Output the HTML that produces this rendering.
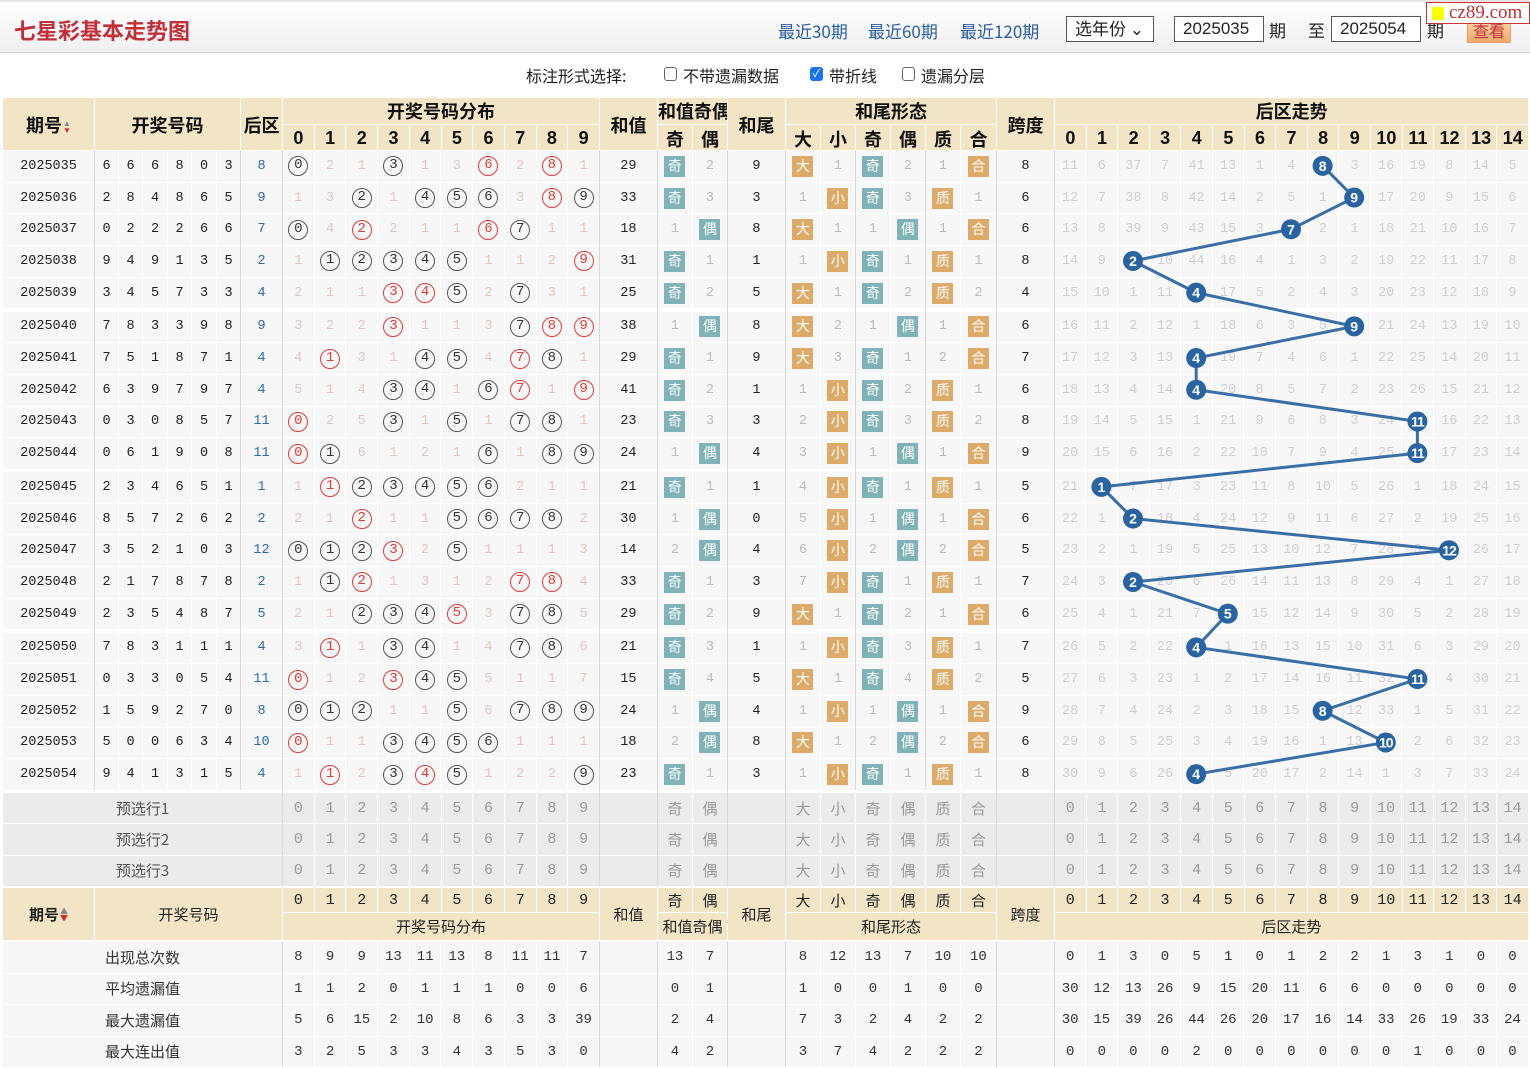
<!DOCTYPE html>
<html><head><meta charset="utf-8">
<style>
*{box-sizing:border-box}
body{margin:0;width:1530px;height:1068px;position:relative;background:#fff;font-family:"Liberation Sans","Noto Sans CJK SC",sans-serif;overflow:hidden;color:#222}
.top{position:absolute;left:0;top:0;width:1530px;height:53px;background:linear-gradient(#fff,#f0f0f0);border-top:2px solid #e5e5e5;border-bottom:1px solid #d8d8d8}
.title{position:absolute;left:14px;top:12px;font-size:22px;font-weight:bold;color:#c0303a;font-family:"Noto Sans CJK SC",sans-serif}
.lk{position:absolute;top:16px;font-size:17px;color:#2a5d9c;font-family:"Noto Sans CJK SC",sans-serif}
.box{position:absolute;top:14px;height:26px;border:1px solid #555;background:#fff;font-size:17px;line-height:24px;padding-left:8px}
.tx{position:absolute;top:15px;font-size:17px;font-family:"Noto Sans CJK SC",sans-serif}
.btn{position:absolute;left:1467px;top:15px;width:44px;height:26px;background:linear-gradient(#fbd9b0,#f3a86a);border:1px solid #e2a36b;color:#c0303a;font-size:16px;text-align:center;line-height:24px;font-family:"Noto Sans CJK SC",sans-serif}
.logo{position:absolute;left:1426px;top:0;width:104px;height:22px;background:#fff;border:1px solid #c33;font-family:"Liberation Serif",serif;color:#c0303a;font-size:19px;line-height:19px;padding-left:22px}
.logo:before{content:"";position:absolute;left:5px;top:4px;width:12px;height:13px;background:#ff0}
.opt{position:absolute;top:63px;font-size:16px;color:#222;font-family:"Noto Sans CJK SC",sans-serif}
.cb{position:absolute;top:67px;width:13px;height:14px;border:1px solid #666;border-radius:3px;background:#fff}
.cb.on{background:#1a73e8;border-color:#1a73e8;color:#fff;font-size:11px;line-height:12px;text-align:center}
table{position:absolute;left:2px;width:1526px;table-layout:fixed;border-collapse:collapse}
td{padding:0;text-align:center;border:1px solid #fff;white-space:nowrap;overflow:hidden}
.h td{background:#f1e5c6;font-weight:bold;font-size:18px;font-family:"Liberation Sans","Noto Sans CJK SC",sans-serif;color:#111}
.h tr.a{height:25px}.h tr.b{height:28px}
.d td{background:#f7f7f7;font-family:"Liberation Mono",monospace;font-size:13.5px;height:31.7px}
.d tr{height:31.7px}
.d td:nth-child(8){color:#2d6aa8}
.d td:nth-child(n+9):nth-child(-n+18){color:#e2c6c6}
.d td:nth-child(20),.d td:nth-child(21),.d td:nth-child(n+23):nth-child(-n+28){color:#bbb}
.d td:nth-child(n+30){color:#cfcfcf}
i{display:inline-block;width:20px;height:20px;border:1.5px solid #555;border-radius:50%;line-height:17px;font-style:normal;color:#333;font-size:14px}
i.r{border-color:#e03a3a;color:#e03a3a}
b{display:inline-block;width:21px;height:21px;line-height:21px;color:#fff;font-weight:normal;font-size:14px;font-family:"Noto Sans CJK SC",sans-serif}
b.q{background:#7fb3b8}b.o{background:#dcab69}
.p td{background:#ebebeb;color:#999;font-family:"Liberation Mono","Noto Sans CJK SC",monospace;font-size:15px;height:31.4px}
.p td.l{font-family:"Noto Sans CJK SC",sans-serif;color:#555;font-size:15px}
.bh td{background:#f1e5c6;font-size:15px;font-family:"Liberation Mono","Noto Sans CJK SC",monospace;color:#222}
.st td{background:#f7f7f7;font-family:"Liberation Mono",monospace;font-size:14px;height:31.5px;color:#333}
.st td.l{font-family:"Noto Sans CJK SC",sans-serif;font-size:15px}
.ar{display:inline-block;vertical-align:middle;font-size:8px;line-height:7px;margin-left:1px}
.ar span{display:block}
.vl{position:absolute;width:1px;background:#d8d8d8}
</style></head><body>
<div class="top">
<div class="title">七星彩基本走势图</div>
<div class="lk" style="left:778px">最近30期</div>
<div class="lk" style="left:868px">最近60期</div>
<div class="lk" style="left:960px">最近120期</div>
<div class="box" style="left:1066px;width:88px;font-family:'Noto Sans CJK SC',sans-serif;line-height:22px">选年份 ⌄</div>
<div class="box" style="left:1174px;width:90px">2025035</div>
<div class="tx" style="left:1269px">期</div>
<div class="tx" style="left:1308px">至</div>
<div class="box" style="left:1331px;width:90px">2025054</div>
<div class="tx" style="left:1427px">期</div>
<div class="btn">查看</div>
<div class="logo">cz89.com</div>
</div>
<div class="opt" style="left:526px">标注形式选择:</div>
<div class="cb" style="left:664px"></div><div class="opt" style="left:683px">不带遗漏数据</div>
<div class="cb on" style="left:810px">✓</div><div class="opt" style="left:829px">带折线</div>
<div class="cb" style="left:902px"></div><div class="opt" style="left:921px">遗漏分层</div>

<table class="h" style="top:97px">
<colgroup><col style="width:92px"><col span="2" style="width:24px"><col style="width:25px"><col style="width:24px"><col style="width:25px"><col style="width:24px"><col style="width:42px"><col span="10" style="width:31.7px"><col style="width:58px"><col span="2" style="width:35px"><col style="width:58px"><col span="5" style="width:35px"><col style="width:36px"><col style="width:58px"><col span="15" style="width:31.6px"></colgroup>
<tr class="a"><td rowspan="2">期号<span class="ar"><span style="color:#888">▲</span><span style="color:#d22">▼</span></span></td><td colspan="6" rowspan="2">开奖号码</td><td rowspan="2">后区</td><td colspan="10">开奖号码分布</td><td rowspan="2">和值</td><td colspan="2">和值奇偶</td><td rowspan="2">和尾</td><td colspan="6">和尾形态</td><td rowspan="2">跨度</td><td colspan="15">后区走势</td></tr>
<tr class="b"><td>0<td>1<td>2<td>3<td>4<td>5<td>6<td>7<td>8<td>9<td>奇<td>偶<td>大<td>小<td>奇<td>偶<td>质<td>合<td>0<td>1<td>2<td>3<td>4<td>5<td>6<td>7<td>8<td>9<td>10<td>11<td>12<td>13<td>14</tr>
</table>

<table class="d" style="top:150px">
<colgroup><col style="width:92px"><col span="2" style="width:24px"><col style="width:25px"><col style="width:24px"><col style="width:25px"><col style="width:24px"><col style="width:42px"><col span="10" style="width:31.7px"><col style="width:58px"><col span="2" style="width:35px"><col style="width:58px"><col span="5" style="width:35px"><col style="width:36px"><col style="width:58px"><col span="15" style="width:31.6px"></colgroup>
<tr><td>2025035<td>6<td>6<td>6<td>8<td>0<td>3<td>8<td><i>0</i><td>2<td>1<td><i>3</i><td>1<td>3<td><i class="r">6</i><td>2<td><i class="r">8</i><td>1<td>29<td><b class="q">奇</b><td>2<td>9<td><b class="o">大</b><td>1<td><b class="q">奇</b><td>2<td>1<td><b class="o">合</b><td>8<td>11<td>6<td>37<td>7<td>41<td>13<td>1<td>4<td><td>3<td>16<td>19<td>8<td>14<td>5</tr>
<tr><td>2025036<td>2<td>8<td>4<td>8<td>6<td>5<td>9<td>1<td>3<td><i>2</i><td>1<td><i>4</i><td><i>5</i><td><i>6</i><td>3<td><i class="r">8</i><td><i>9</i><td>33<td><b class="q">奇</b><td>3<td>3<td>1<td><b class="o">小</b><td><b class="q">奇</b><td>3<td><b class="o">质</b><td>1<td>6<td>12<td>7<td>38<td>8<td>42<td>14<td>2<td>5<td>1<td><td>17<td>20<td>9<td>15<td>6</tr>
<tr><td>2025037<td>0<td>2<td>2<td>2<td>6<td>6<td>7<td><i>0</i><td>4<td><i class="r">2</i><td>2<td>1<td>1<td><i class="r">6</i><td><i>7</i><td>1<td>1<td>18<td>1<td><b class="q">偶</b><td>8<td><b class="o">大</b><td>1<td>1<td><b class="q">偶</b><td>1<td><b class="o">合</b><td>6<td>13<td>8<td>39<td>9<td>43<td>15<td>3<td><td>2<td>1<td>18<td>21<td>10<td>16<td>7</tr>
<tr><td>2025038<td>9<td>4<td>9<td>1<td>3<td>5<td>2<td>1<td><i>1</i><td><i>2</i><td><i>3</i><td><i>4</i><td><i>5</i><td>1<td>1<td>2<td><i class="r">9</i><td>31<td><b class="q">奇</b><td>1<td>1<td>1<td><b class="o">小</b><td><b class="q">奇</b><td>1<td><b class="o">质</b><td>1<td>8<td>14<td>9<td><td>10<td>44<td>16<td>4<td>1<td>3<td>2<td>19<td>22<td>11<td>17<td>8</tr>
<tr><td>2025039<td>3<td>4<td>5<td>7<td>3<td>3<td>4<td>2<td>1<td>1<td><i class="r">3</i><td><i class="r">4</i><td><i>5</i><td>2<td><i>7</i><td>3<td>1<td>25<td><b class="q">奇</b><td>2<td>5<td><b class="o">大</b><td>1<td><b class="q">奇</b><td>2<td><b class="o">质</b><td>2<td>4<td>15<td>10<td>1<td>11<td><td>17<td>5<td>2<td>4<td>3<td>20<td>23<td>12<td>18<td>9</tr>
</table>

<table class="d" style="top:310.5px">
<colgroup><col style="width:92px"><col span="2" style="width:24px"><col style="width:25px"><col style="width:24px"><col style="width:25px"><col style="width:24px"><col style="width:42px"><col span="10" style="width:31.7px"><col style="width:58px"><col span="2" style="width:35px"><col style="width:58px"><col span="5" style="width:35px"><col style="width:36px"><col style="width:58px"><col span="15" style="width:31.6px"></colgroup>
<tr><td>2025040<td>7<td>8<td>3<td>3<td>9<td>8<td>9<td>3<td>2<td>2<td><i class="r">3</i><td>1<td>1<td>3<td><i>7</i><td><i class="r">8</i><td><i class="r">9</i><td>38<td>1<td><b class="q">偶</b><td>8<td><b class="o">大</b><td>2<td>1<td><b class="q">偶</b><td>1<td><b class="o">合</b><td>6<td>16<td>11<td>2<td>12<td>1<td>18<td>6<td>3<td>5<td><td>21<td>24<td>13<td>19<td>10</tr>
<tr><td>2025041<td>7<td>5<td>1<td>8<td>7<td>1<td>4<td>4<td><i class="r">1</i><td>3<td>1<td><i>4</i><td><i>5</i><td>4<td><i class="r">7</i><td><i>8</i><td>1<td>29<td><b class="q">奇</b><td>1<td>9<td><b class="o">大</b><td>3<td><b class="q">奇</b><td>1<td>2<td><b class="o">合</b><td>7<td>17<td>12<td>3<td>13<td><td>19<td>7<td>4<td>6<td>1<td>22<td>25<td>14<td>20<td>11</tr>
<tr><td>2025042<td>6<td>3<td>9<td>7<td>9<td>7<td>4<td>5<td>1<td>4<td><i>3</i><td><i>4</i><td>1<td><i>6</i><td><i class="r">7</i><td>1<td><i class="r">9</i><td>41<td><b class="q">奇</b><td>2<td>1<td>1<td><b class="o">小</b><td><b class="q">奇</b><td>2<td><b class="o">质</b><td>1<td>6<td>18<td>13<td>4<td>14<td><td>20<td>8<td>5<td>7<td>2<td>23<td>26<td>15<td>21<td>12</tr>
<tr><td>2025043<td>0<td>3<td>0<td>8<td>5<td>7<td>11<td><i class="r">0</i><td>2<td>5<td><i>3</i><td>1<td><i>5</i><td>1<td><i>7</i><td><i>8</i><td>1<td>23<td><b class="q">奇</b><td>3<td>3<td>2<td><b class="o">小</b><td><b class="q">奇</b><td>3<td><b class="o">质</b><td>2<td>8<td>19<td>14<td>5<td>15<td>1<td>21<td>9<td>6<td>8<td>3<td>24<td><td>16<td>22<td>13</tr>
<tr><td>2025044<td>0<td>6<td>1<td>9<td>0<td>8<td>11<td><i class="r">0</i><td><i>1</i><td>6<td>1<td>2<td>1<td><i>6</i><td>1<td><i>8</i><td><i>9</i><td>24<td>1<td><b class="q">偶</b><td>4<td>3<td><b class="o">小</b><td>1<td><b class="q">偶</b><td>1<td><b class="o">合</b><td>9<td>20<td>15<td>6<td>16<td>2<td>22<td>10<td>7<td>9<td>4<td>25<td><td>17<td>23<td>14</tr>
</table>

<table class="d" style="top:471px">
<colgroup><col style="width:92px"><col span="2" style="width:24px"><col style="width:25px"><col style="width:24px"><col style="width:25px"><col style="width:24px"><col style="width:42px"><col span="10" style="width:31.7px"><col style="width:58px"><col span="2" style="width:35px"><col style="width:58px"><col span="5" style="width:35px"><col style="width:36px"><col style="width:58px"><col span="15" style="width:31.6px"></colgroup>
<tr><td>2025045<td>2<td>3<td>4<td>6<td>5<td>1<td>1<td>1<td><i class="r">1</i><td><i>2</i><td><i>3</i><td><i>4</i><td><i>5</i><td><i>6</i><td>2<td>1<td>1<td>21<td><b class="q">奇</b><td>1<td>1<td>4<td><b class="o">小</b><td><b class="q">奇</b><td>1<td><b class="o">质</b><td>1<td>5<td>21<td><td>7<td>17<td>3<td>23<td>11<td>8<td>10<td>5<td>26<td>1<td>18<td>24<td>15</tr>
<tr><td>2025046<td>8<td>5<td>7<td>2<td>6<td>2<td>2<td>2<td>1<td><i class="r">2</i><td>1<td>1<td><i>5</i><td><i>6</i><td><i>7</i><td><i>8</i><td>2<td>30<td>1<td><b class="q">偶</b><td>0<td>5<td><b class="o">小</b><td>1<td><b class="q">偶</b><td>1<td><b class="o">合</b><td>6<td>22<td>1<td><td>18<td>4<td>24<td>12<td>9<td>11<td>6<td>27<td>2<td>19<td>25<td>16</tr>
<tr><td>2025047<td>3<td>5<td>2<td>1<td>0<td>3<td>12<td><i>0</i><td><i>1</i><td><i>2</i><td><i class="r">3</i><td>2<td><i>5</i><td>1<td>1<td>1<td>3<td>14<td>2<td><b class="q">偶</b><td>4<td>6<td><b class="o">小</b><td>2<td><b class="q">偶</b><td>2<td><b class="o">合</b><td>5<td>23<td>2<td>1<td>19<td>5<td>25<td>13<td>10<td>12<td>7<td>28<td>3<td><td>26<td>17</tr>
<tr><td>2025048<td>2<td>1<td>7<td>8<td>7<td>8<td>2<td>1<td><i>1</i><td><i class="r">2</i><td>1<td>3<td>1<td>2<td><i class="r">7</i><td><i class="r">8</i><td>4<td>33<td><b class="q">奇</b><td>1<td>3<td>7<td><b class="o">小</b><td><b class="q">奇</b><td>1<td><b class="o">质</b><td>1<td>7<td>24<td>3<td><td>20<td>6<td>26<td>14<td>11<td>13<td>8<td>29<td>4<td>1<td>27<td>18</tr>
<tr><td>2025049<td>2<td>3<td>5<td>4<td>8<td>7<td>5<td>2<td>1<td><i>2</i><td><i>3</i><td><i>4</i><td><i class="r">5</i><td>3<td><i>7</i><td><i>8</i><td>5<td>29<td><b class="q">奇</b><td>2<td>9<td><b class="o">大</b><td>1<td><b class="q">奇</b><td>2<td>1<td><b class="o">合</b><td>6<td>25<td>4<td>1<td>21<td>7<td><td>15<td>12<td>14<td>9<td>30<td>5<td>2<td>28<td>19</tr>
</table>

<table class="d" style="top:631.5px">
<colgroup><col style="width:92px"><col span="2" style="width:24px"><col style="width:25px"><col style="width:24px"><col style="width:25px"><col style="width:24px"><col style="width:42px"><col span="10" style="width:31.7px"><col style="width:58px"><col span="2" style="width:35px"><col style="width:58px"><col span="5" style="width:35px"><col style="width:36px"><col style="width:58px"><col span="15" style="width:31.6px"></colgroup>
<tr><td>2025050<td>7<td>8<td>3<td>1<td>1<td>1<td>4<td>3<td><i class="r">1</i><td>1<td><i>3</i><td><i>4</i><td>1<td>4<td><i>7</i><td><i>8</i><td>6<td>21<td><b class="q">奇</b><td>3<td>1<td>1<td><b class="o">小</b><td><b class="q">奇</b><td>3<td><b class="o">质</b><td>1<td>7<td>26<td>5<td>2<td>22<td><td>1<td>16<td>13<td>15<td>10<td>31<td>6<td>3<td>29<td>20</tr>
<tr><td>2025051<td>0<td>3<td>3<td>0<td>5<td>4<td>11<td><i class="r">0</i><td>1<td>2<td><i class="r">3</i><td><i>4</i><td><i>5</i><td>5<td>1<td>1<td>7<td>15<td><b class="q">奇</b><td>4<td>5<td><b class="o">大</b><td>1<td><b class="q">奇</b><td>4<td><b class="o">质</b><td>2<td>5<td>27<td>6<td>3<td>23<td>1<td>2<td>17<td>14<td>16<td>11<td>32<td><td>4<td>30<td>21</tr>
<tr><td>2025052<td>1<td>5<td>9<td>2<td>7<td>0<td>8<td><i>0</i><td><i>1</i><td><i>2</i><td>1<td>1<td><i>5</i><td>6<td><i>7</i><td><i>8</i><td><i>9</i><td>24<td>1<td><b class="q">偶</b><td>4<td>1<td><b class="o">小</b><td>1<td><b class="q">偶</b><td>1<td><b class="o">合</b><td>9<td>28<td>7<td>4<td>24<td>2<td>3<td>18<td>15<td><td>12<td>33<td>1<td>5<td>31<td>22</tr>
<tr><td>2025053<td>5<td>0<td>0<td>6<td>3<td>4<td>10<td><i class="r">0</i><td>1<td>1<td><i>3</i><td><i>4</i><td><i>5</i><td><i>6</i><td>1<td>1<td>1<td>18<td>2<td><b class="q">偶</b><td>8<td><b class="o">大</b><td>1<td>2<td><b class="q">偶</b><td>2<td><b class="o">合</b><td>6<td>29<td>8<td>5<td>25<td>3<td>4<td>19<td>16<td>1<td>13<td><td>2<td>6<td>32<td>23</tr>
<tr><td>2025054<td>9<td>4<td>1<td>3<td>1<td>5<td>4<td>1<td><i class="r">1</i><td>2<td><i>3</i><td><i class="r">4</i><td><i>5</i><td>1<td>2<td>2<td><i>9</i><td>23<td><b class="q">奇</b><td>1<td>3<td>1<td><b class="o">小</b><td><b class="q">奇</b><td>1<td><b class="o">质</b><td>1<td>8<td>30<td>9<td>6<td>26<td><td>5<td>20<td>17<td>2<td>14<td>1<td>3<td>7<td>33<td>24</tr>
</table>

<table class="p" style="top:792px">
<colgroup><col style="width:92px"><col span="2" style="width:24px"><col style="width:25px"><col style="width:24px"><col style="width:25px"><col style="width:24px"><col style="width:42px"><col span="10" style="width:31.7px"><col style="width:58px"><col span="2" style="width:35px"><col style="width:58px"><col span="5" style="width:35px"><col style="width:36px"><col style="width:58px"><col span="15" style="width:31.6px"></colgroup>
<tr><td class="l" colspan="8">预选行1<td>0<td>1<td>2<td>3<td>4<td>5<td>6<td>7<td>8<td>9<td><td>奇<td>偶<td><td>大<td>小<td>奇<td>偶<td>质<td>合<td><td>0<td>1<td>2<td>3<td>4<td>5<td>6<td>7<td>8<td>9<td>10<td>11<td>12<td>13<td>14</tr>
<tr><td class="l" colspan="8">预选行2<td>0<td>1<td>2<td>3<td>4<td>5<td>6<td>7<td>8<td>9<td><td>奇<td>偶<td><td>大<td>小<td>奇<td>偶<td>质<td>合<td><td>0<td>1<td>2<td>3<td>4<td>5<td>6<td>7<td>8<td>9<td>10<td>11<td>12<td>13<td>14</tr>
<tr><td class="l" colspan="8">预选行3<td>0<td>1<td>2<td>3<td>4<td>5<td>6<td>7<td>8<td>9<td><td>奇<td>偶<td><td>大<td>小<td>奇<td>偶<td>质<td>合<td><td>0<td>1<td>2<td>3<td>4<td>5<td>6<td>7<td>8<td>9<td>10<td>11<td>12<td>13<td>14</tr>
</table>

<table class="bh" style="top:887px">
<colgroup><col style="width:92px"><col span="2" style="width:24px"><col style="width:25px"><col style="width:24px"><col style="width:25px"><col style="width:24px"><col style="width:42px"><col span="10" style="width:31.7px"><col style="width:58px"><col span="2" style="width:35px"><col style="width:58px"><col span="5" style="width:35px"><col style="width:36px"><col style="width:58px"><col span="15" style="width:31.6px"></colgroup>
<tr style="height:25px"><td rowspan="2" style="font-weight:bold;font-family:'Noto Sans CJK SC',sans-serif">期号<span class="ar"><span style="color:#888">▲</span><span style="color:#d22">▼</span></span></td><td colspan="7" rowspan="2">开奖号码</td><td>0<td>1<td>2<td>3<td>4<td>5<td>6<td>7<td>8<td>9<td rowspan="2">和值</td><td>奇<td>偶<td rowspan="2">和尾</td><td>大<td>小<td>奇<td>偶<td>质<td>合<td rowspan="2">跨度</td><td>0<td>1<td>2<td>3<td>4<td>5<td>6<td>7<td>8<td>9<td>10<td>11<td>12<td>13<td>14</tr>
<tr style="height:28px"><td colspan="10">开奖号码分布</td><td colspan="2">和值奇偶</td><td colspan="6">和尾形态</td><td colspan="15">后区走势</td></tr>
</table>

<table class="st" style="top:941px">
<colgroup><col style="width:92px"><col span="2" style="width:24px"><col style="width:25px"><col style="width:24px"><col style="width:25px"><col style="width:24px"><col style="width:42px"><col span="10" style="width:31.7px"><col style="width:58px"><col span="2" style="width:35px"><col style="width:58px"><col span="5" style="width:35px"><col style="width:36px"><col style="width:58px"><col span="15" style="width:31.6px"></colgroup>
<tr><td class="l" colspan="8">出现总次数<td>8<td>9<td>9<td>13<td>11<td>13<td>8<td>11<td>11<td>7<td><td>13<td>7<td><td>8<td>12<td>13<td>7<td>10<td>10<td><td>0<td>1<td>3<td>0<td>5<td>1<td>0<td>1<td>2<td>2<td>1<td>3<td>1<td>0<td>0</tr>
<tr><td class="l" colspan="8">平均遗漏值<td>1<td>1<td>2<td>0<td>1<td>1<td>1<td>0<td>0<td>6<td><td>0<td>1<td><td>1<td>0<td>0<td>1<td>0<td>0<td><td>30<td>12<td>13<td>26<td>9<td>15<td>20<td>11<td>6<td>6<td>0<td>0<td>0<td>0<td>0</tr>
<tr><td class="l" colspan="8">最大遗漏值<td>5<td>6<td>15<td>2<td>10<td>8<td>6<td>3<td>3<td>39<td><td>2<td>4<td><td>7<td>3<td>2<td>4<td>2<td>2<td><td>30<td>15<td>39<td>26<td>44<td>26<td>20<td>17<td>16<td>14<td>33<td>26<td>19<td>33<td>24</tr>
<tr><td class="l" colspan="8">最大连出值<td>3<td>2<td>5<td>3<td>3<td>4<td>3<td>5<td>3<td>0<td><td>4<td>2<td><td>3<td>7<td>4<td>2<td>2<td>2<td><td>0<td>0<td>0<td>0<td>2<td>0<td>0<td>0<td>0<td>0<td>0<td>1<td>0<td>0<td>0</tr>
</table>

<div class="vl" style="left:94px;top:150px;height:640px"></div>
<div class="vl" style="left:240px;top:150px;height:640px"></div>
<div class="vl" style="left:282px;top:150px;height:736px"></div>
<div class="vl" style="left:599px;top:150px;height:736px"></div>
<div class="vl" style="left:657px;top:150px;height:736px"></div>
<div class="vl" style="left:727px;top:150px;height:736px"></div>
<div class="vl" style="left:785px;top:150px;height:736px"></div>
<div class="vl" style="left:855px;top:150px;height:640px"></div>
<div class="vl" style="left:925px;top:150px;height:640px"></div>
<div class="vl" style="left:996px;top:150px;height:736px"></div>
<div class="vl" style="left:1054px;top:150px;height:736px"></div>
<div class="vl" style="left:282px;top:941px;height:126px"></div>
<div class="vl" style="left:599px;top:941px;height:126px"></div>
<div class="vl" style="left:657px;top:941px;height:126px"></div>
<div class="vl" style="left:727px;top:941px;height:126px"></div>
<div class="vl" style="left:785px;top:941px;height:126px"></div>
<div class="vl" style="left:996px;top:941px;height:126px"></div>
<div class="vl" style="left:1054px;top:941px;height:126px"></div>

<svg style="position:absolute;left:0;top:0" width="1530" height="1068">
<polyline fill="none" stroke="#3a6ea6" stroke-width="3" points="1322.6,165.85 1354.2,197.55 1291,229.25 1133,260.95 1196.2,292.65 1354.2,326.35 1196.2,358.05 1196.2,389.75 1417.4,421.45 1417.4,453.15 1101.4,486.85 1133,518.55 1449,550.25 1133,581.95 1227.8,613.65 1196.2,647.35 1417.4,679.05 1322.6,710.75 1385.8,742.45 1196.2,774.15"/>
<g fill="#2a64a0">
<circle cx="1322.6" cy="165.85" r="10"/><circle cx="1354.2" cy="197.55" r="10"/><circle cx="1291" cy="229.25" r="10"/><circle cx="1133" cy="260.95" r="10"/><circle cx="1196.2" cy="292.65" r="10"/><circle cx="1354.2" cy="326.35" r="10"/><circle cx="1196.2" cy="358.05" r="10"/><circle cx="1196.2" cy="389.75" r="10"/><circle cx="1417.4" cy="421.45" r="10"/><circle cx="1417.4" cy="453.15" r="10"/><circle cx="1101.4" cy="486.85" r="10"/><circle cx="1133" cy="518.55" r="10"/><circle cx="1449" cy="550.25" r="10"/><circle cx="1133" cy="581.95" r="10"/><circle cx="1227.8" cy="613.65" r="10"/><circle cx="1196.2" cy="647.35" r="10"/><circle cx="1417.4" cy="679.05" r="10"/><circle cx="1322.6" cy="710.75" r="10"/><circle cx="1385.8" cy="742.45" r="10"/><circle cx="1196.2" cy="774.15" r="10"/>
</g>
<g fill="#fff" font-family="Liberation Sans, sans-serif" font-weight="bold" font-size="14" text-anchor="middle">
<text x="1322.6" y="170.85">8</text><text x="1354.2" y="202.55">9</text><text x="1291" y="234.25">7</text><text x="1133" y="265.95">2</text><text x="1196.2" y="297.65">4</text><text x="1354.2" y="331.35">9</text><text x="1196.2" y="363.05">4</text><text x="1196.2" y="394.75">4</text><text x="1417.4" y="426.45" letter-spacing="-1">11</text><text x="1417.4" y="458.15" letter-spacing="-1">11</text><text x="1101.4" y="491.85">1</text><text x="1133" y="523.55">2</text><text x="1449" y="555.25" letter-spacing="-1">12</text><text x="1133" y="586.95">2</text><text x="1227.8" y="618.65">5</text><text x="1196.2" y="652.35">4</text><text x="1417.4" y="684.05" letter-spacing="-1">11</text><text x="1322.6" y="715.75">8</text><text x="1385.8" y="747.45" letter-spacing="-1">10</text><text x="1196.2" y="779.15">4</text>
</g>
</svg>
</body></html>
